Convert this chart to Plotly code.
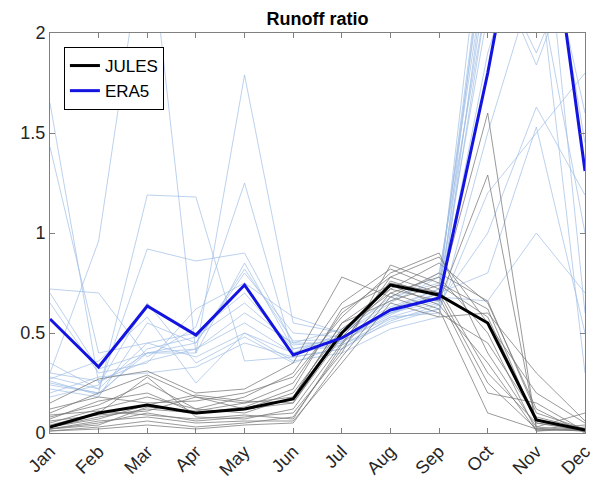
import plotly.graph_objects as go

months = ["Jan", "Feb", "Mar", "Apr", "May", "Jun", "Jul", "Aug", "Sep", "Oct", "Nov", "Dec"]

jules_mean = [0.03, 0.10, 0.14, 0.10, 0.12, 0.17, 0.50, 0.74, 0.69, 0.55, 0.065, 0.015]
era5_mean = [0.57, 0.33, 0.635, 0.49, 0.74, 0.39, 0.475, 0.615, 0.675, 1.80, 3.10, 1.31]

era5_years = [
    [1.65, 0.25, 0.40, 0.42, 0.60, 0.45, 0.45, 0.62, 0.72, 2.60, 2.90, 1.45],
    [1.43, 0.40, 0.45, 0.38, 0.50, 0.40, 0.50, 0.65, 0.78, 2.40, 1.84, 2.50],
    [0.30, 0.96, 2.60, 0.40, 0.85, 0.42, 0.48, 0.60, 0.70, 2.80, 2.50, 2.60],
    [0.25, 0.20, 1.19, 1.18, 0.36, 0.38, 0.42, 0.58, 0.65, 1.00, 1.63, 1.19],
    [0.70, 0.32, 0.40, 0.40, 1.79, 0.55, 0.50, 0.68, 0.75, 2.50, 2.20, 2.40],
    [0.72, 0.70, 0.38, 0.53, 1.25, 0.40, 0.45, 0.62, 0.70, 0.80, 1.53, 0.50],
    [0.28, 0.22, 0.92, 0.86, 0.90, 0.45, 0.52, 0.66, 0.80, 2.20, 2.40, 0.30],
    [0.22, 0.18, 0.55, 0.45, 0.80, 0.50, 0.48, 0.60, 0.68, 0.66, 1.00, 0.70],
    [0.65, 0.30, 0.35, 0.62, 0.75, 0.58, 0.50, 0.63, 0.72, 2.10, 2.60, 2.30],
    [0.18, 0.24, 0.65, 0.35, 0.48, 0.35, 0.44, 0.55, 0.62, 1.20, 1.50, 1.80],
    [0.20, 0.28, 0.30, 0.33, 0.45, 0.38, 0.42, 0.56, 0.64, 2.20, 2.10, 2.30],
    [0.35, 0.22, 0.45, 0.50, 0.70, 0.42, 0.46, 0.58, 0.60, 1.50, 2.30, 1.00],
    [0.27, 0.36, 0.58, 0.25, 0.50, 0.36, 0.40, 0.52, 0.58, 2.40, 1.90, 2.50],
    [0.24, 0.20, 0.40, 0.45, 0.82, 0.46, 0.47, 0.60, 0.66, 1.90, 2.70, 1.60],
    [0.30, 0.26, 0.36, 0.42, 0.55, 0.40, 0.44, 0.57, 0.62, 2.60, 3.00, 0.60],
    [0.26, 0.19, 0.42, 0.48, 0.65, 0.44, 0.46, 0.59, 0.70, 2.30, 2.00, 2.10],
]

jules_years = [
    [0.03, 0.08, 0.12, 0.10, 0.12, 0.15, 0.50, 0.75, 0.70, 1.60, 0.02, 0.01],
    [0.05, 0.12, 0.18, 0.12, 0.10, 0.18, 0.55, 0.72, 0.66, 1.29, 0.03, 0.01],
    [0.15, 0.27, 0.31, 0.20, 0.22, 0.35, 0.78, 0.68, 0.80, 0.66, 0.10, 0.02],
    [0.02, 0.05, 0.10, 0.06, 0.08, 0.10, 0.40, 0.84, 0.75, 0.62, 0.05, 0.01],
    [0.10, 0.20, 0.29, 0.18, 0.15, 0.25, 0.60, 0.78, 0.88, 0.55, 0.20, 0.05],
    [0.01, 0.03, 0.06, 0.03, 0.05, 0.08, 0.42, 0.70, 0.62, 0.10, 0.02, 0.01],
    [0.08, 0.14, 0.25, 0.12, 0.18, 0.30, 0.65, 0.82, 0.72, 0.30, 0.05, 0.02],
    [0.02, 0.06, 0.08, 0.05, 0.06, 0.06, 0.35, 0.65, 0.58, 0.60, 0.30, 0.06],
    [0.12, 0.18, 0.15, 0.16, 0.20, 0.28, 0.58, 0.80, 0.90, 0.40, 0.03, 0.10],
    [0.04, 0.10, 0.28, 0.08, 0.07, 0.12, 0.45, 0.76, 0.68, 0.20, 0.15, 0.01],
    [0.06, 0.09, 0.11, 0.18, 0.12, 0.20, 0.52, 0.70, 0.78, 0.50, 0.01, 0.03],
    [0.01, 0.02, 0.04, 0.02, 0.04, 0.05, 0.38, 0.68, 0.60, 0.45, 0.08, 0.02],
    [0.07, 0.16, 0.20, 0.10, 0.13, 0.22, 0.62, 0.74, 0.64, 0.35, 0.01, 0.02],
    [0.03, 0.07, 0.14, 0.19, 0.16, 0.15, 0.48, 0.72, 0.85, 0.65, 0.12, 0.00],
    [0.09, 0.11, 0.09, 0.07, 0.09, 0.07, 0.44, 0.78, 0.70, 0.25, 0.02, 0.04],
    [0.02, 0.04, 0.13, 0.11, 0.15, 0.18, 0.55, 0.66, 0.74, 0.58, 0.06, 0.01],
]

y_ticks = [0, 0.5, 1, 1.5, 2]
y_tick_labels = ["0", "0.5", "1", "1.5", "2"]

x = list(range(1, 13))
fig = go.Figure()

for yr in era5_years:
    fig.add_trace(go.Scatter(x=x, y=yr, mode="lines", showlegend=False, hoverinfo="skip",
                             line=dict(color="rgba(160,190,230,0.7)", width=1)))
for yr in jules_years:
    fig.add_trace(go.Scatter(x=x, y=yr, mode="lines", showlegend=False, hoverinfo="skip",
                             line=dict(color="rgba(120,120,120,0.75)", width=1)))

fig.add_trace(go.Scatter(x=x, y=jules_mean, mode="lines", name="JULES",
                         line=dict(color="black", width=3)))
fig.add_trace(go.Scatter(x=x, y=era5_mean, mode="lines", name="ERA5",
                         line=dict(color="rgb(20,20,225)", width=3)))

font_family = "Liberation Sans, Arial, Helvetica, sans-serif"
axis_common = dict(showline=True, linecolor="#808080", linewidth=1, mirror="ticks",
                   ticks="inside", ticklen=5, tickcolor="#808080", showgrid=False,
                   zeroline=False, automargin=False,
                   tickfont=dict(size=18, color="#262626", family=font_family))

fig.update_layout(
    width=598, height=479,
    margin=dict(l=50, r=13, t=33, b=46),
    plot_bgcolor="white", paper_bgcolor="white",
    title=dict(text="<b>Runoff ratio</b>", x=0.5, xref="paper", y=1 - 19 / 479, yref="container",
               xanchor="center", yanchor="middle", automargin=False,
               font=dict(size=18, color="black", family=font_family)),
    xaxis=dict(range=[1, 12], tickmode="array", tickvals=x, ticktext=months, tickangle=-45,
               **axis_common),
    yaxis=dict(range=[0, 2], tickmode="array", tickvals=y_ticks, ticktext=y_tick_labels,
               **axis_common),
    legend=dict(x=0.026, y=0.965, xanchor="left", yanchor="top", bgcolor="white",
                bordercolor="black", borderwidth=1, tracegroupgap=0,
                font=dict(size=17, color="black", family=font_family)),
    showlegend=True,
)

fig.write_html("out.html", config={"displayModeBar": False},
               post_script="document.body.style.margin='0';document.body.style.padding='0';"
                           "document.documentElement.style.overflow='hidden';")
